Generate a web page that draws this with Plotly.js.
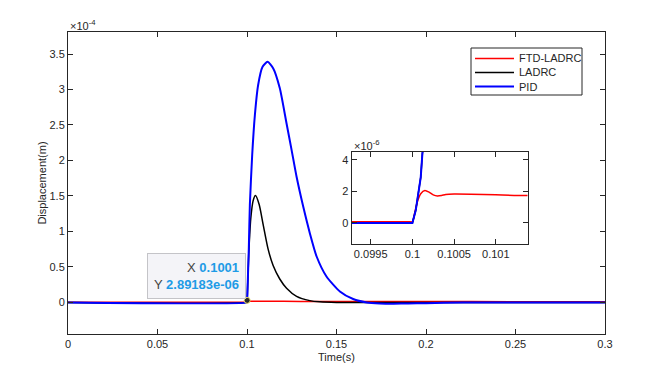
<!DOCTYPE html>
<html>
<head>
<meta charset="utf-8">
<script src="https://cdn.plot.ly/plotly-3.0.1.min.js"></script>
<style>
  html, body { margin: 0; padding: 0; background: #fff; }
  #plotArea { width: 665px; height: 371px; }
</style>
</head>
<body>
<div id="plotArea"></div>
<script>
// values, displacement in metres
var seriesNames = ["FTD-LADRC", "LADRC", "PID"];
var seriesColors = ["#ff0000", "#000000", "#0000ff"];

var tRed = [0, 0.09995, 0.1, 0.10003, 0.10006, 0.1001, 0.10015, 0.1002, 0.10025, 0.1003, 0.10035, 0.1004, 0.1005, 0.1007, 0.101, 0.1014, 0.11, 0.13, 0.16, 0.2, 0.25, 0.3];
var yRed = [0.08e-6, 0.08e-6, 0.08e-6, 0.7e-6, 1.35e-6, 1.85e-6, 2.05e-6, 1.95e-6, 1.78e-6, 1.71e-6, 1.74e-6, 1.8e-6, 1.83e-6, 1.82e-6, 1.78e-6, 1.73e-6, 1.6e-6, 1.45e-6, 1.3e-6, 1.2e-6, 1.1e-6, 1.0e-6];

var tBlack = [0, 0.1, 0.10004, 0.10008, 0.1001, 0.10012, 0.1002, 0.1005, 0.101, 0.1015, 0.1021, 0.1034, 0.1047, 0.1068, 0.109, 0.1118, 0.1146, 0.1183, 0.1221, 0.1277, 0.1351, 0.1407, 0.15, 0.3];
var yBlack = [0, 0, 0.8e-6, 2.1e-6, 2.89e-6, 4.4e-6, 1.1e-5, 3.4e-5, 0.7e-4, 0.95e-4, 1.18e-4, 1.43e-4, 1.505e-4, 1.38e-4, 1.1e-4, 0.75e-4, 0.52e-4, 0.33e-4, 0.2e-4, 0.085e-4, 0.025e-4, 0.008e-4, 0, 0];

var tBlue = [0, 0.1, 0.10004, 0.10008, 0.1001, 0.10012, 0.1002, 0.1005, 0.101, 0.1016, 0.1029, 0.1044, 0.1062, 0.1087, 0.1115, 0.1146, 0.1183, 0.1221, 0.1249, 0.1277, 0.1314, 0.1351, 0.1389, 0.1444, 0.1519, 0.1593, 0.1668, 0.1742, 0.182, 0.19, 0.2, 0.21, 0.23, 0.3];
var yBlue = [0, 0, 0.8e-6, 2.1e-6, 2.89e-6, 4.4e-6, 1.1e-5, 3.5e-5, 7.5e-5, 1.375e-4, 2.078e-4, 2.64e-4, 3.06e-4, 3.32e-4, 3.39e-4, 3.30e-4, 3.02e-4, 2.52e-4, 2.15e-4, 1.77e-4, 1.35e-4, 0.976e-4, 0.647e-4, 0.366e-4, 0.155e-4, 0.048e-4, 0, -0.015e-4, -0.018e-4, -0.015e-4, -0.01e-4, -0.005e-4, 0, 0];

var tipX = [0.1001];
var tipY = [2.89183e-6];

var xTicks = [0, 0.05, 0.1, 0.15, 0.2, 0.25, 0.3];
var yTicks = [0, 0.5e-4, 1e-4, 1.5e-4, 2e-4, 2.5e-4, 3e-4, 3.5e-4];
var yTickText = ["0", "0.5", "1", "1.5", "2", "2.5", "3", "3.5"];
var x2Ticks = [0.0995, 0.1, 0.1005, 0.101];
var y2Ticks = [0, 2e-6, 4e-6];
var y2TickText = ["0", "2", "4"];

var axisColor = "#262626";
var fontFam = "Liberation Sans, Arial, sans-serif";
var fnt = {family: fontFam, size: 11, color: axisColor};

// plot box in pixels -> paper coordinates
var L = 68, R = 605, T = 32, B = 334;
function px(x) { return (x - L) / (R - L); }
function py(y) { return (B - y) / (B - T); }

var trace = [
  {x: tRed, y: yRed, mode: "lines", line: {color: seriesColors[0], width: 1.5, shape: "spline", smoothing: 0.6}},
  {x: tBlack, y: yBlack, mode: "lines", line: {color: seriesColors[1], width: 1.5, shape: "spline", smoothing: 0.6}},
  {x: tBlue, y: yBlue, mode: "lines", line: {color: seriesColors[2], width: 2, shape: "spline", smoothing: 0.6}},
  {x: tipX, y: tipY, mode: "markers",
   marker: {color: "#262626", size: 6, line: {color: "#f0e060", width: 1}}},
  // inset copies
  {x: tRed, y: yRed, xaxis: "x2", yaxis: "y2", mode: "lines", line: {color: seriesColors[0], width: 1.5, shape: "spline", smoothing: 0.6}},
  {x: tBlack, y: yBlack, xaxis: "x2", yaxis: "y2", mode: "lines", line: {color: seriesColors[1], width: 1.5}},
  {x: tBlue, y: yBlue, xaxis: "x2", yaxis: "y2", mode: "lines", line: {color: seriesColors[2], width: 2}}
];

var axisBase = {
  showline: true, linecolor: axisColor, linewidth: 1, mirror: "ticks",
  ticks: "inside", ticklen: 5, tickcolor: axisColor, showgrid: false, zeroline: false,
  tickfont: fnt
};

// hand-drawn legend box, like the MATLAB one
var shapes = [
  {type: "rect", xref: "paper", yref: "paper", x0: px(471), x1: px(582), y0: py(48), y1: py(95),
   fillcolor: "#fff", line: {color: axisColor, width: 1}, layer: "above"}
];
var annotations = [];
var legendY = [58.5, 72.5, 86.5];
seriesNames.forEach(function (name, i) {
  shapes.push({type: "line", xref: "paper", yref: "paper", x0: px(475), x1: px(514), y0: py(legendY[i]), y1: py(legendY[i]),
               line: {color: seriesColors[i], width: i === 2 ? 2 : 1.5}, layer: "above"});
  annotations.push({xref: "paper", yref: "paper", x: px(517), y: py(legendY[i]), xanchor: "left", yanchor: "middle",
                    showarrow: false, text: name, font: fnt});
});

annotations.push(
  {xref: "paper", yref: "paper", x: 0, y: 1, xanchor: "left", yanchor: "bottom", showarrow: false,
   text: "×10<sup>-4</sup>", font: fnt, yshift: -2},
  {xref: "paper", yref: "paper", x: px(351.5), y: py(152), xanchor: "left", yanchor: "bottom", showarrow: false,
   text: "×10<sup>-6</sup>", font: fnt, yshift: -2},
  {xref: "paper", yref: "paper", x: px(246), y: py(299), xanchor: "right", yanchor: "bottom",
   showarrow: false, align: "right", bgcolor: "#f4f4f8", bordercolor: "#c4c4c8", borderwidth: 1, borderpad: 6,
   font: {family: fontFam, size: 13, color: "#444"},
   text: "X <b><span style='color:#1e9be6'>0.1001</span></b><br>Y <b><span style='color:#1e9be6'>2.89183e-06</span></b>"}
);

var layout = {
  width: 665, height: 371,
  margin: {l: L, r: 665 - R, t: T, b: 371 - B},
  paper_bgcolor: "#fff", plot_bgcolor: "#fff",
  font: fnt,
  showlegend: false,
  xaxis: Object.assign({}, axisBase, {range: [0, 0.3], tickvals: xTicks, ticktext: xTicks.map(String),
         domain: [0, 1], title: {text: "Time(s)", font: fnt, standoff: 4}}),
  yaxis: Object.assign({}, axisBase, {range: [-0.445e-4, 3.81e-4], tickvals: yTicks, ticktext: yTickText,
         domain: [0, 1], title: {text: "Displacement(m)", font: fnt, standoff: 0}}),
  xaxis2: Object.assign({}, axisBase, {range: [0.09927, 0.10138], tickvals: x2Ticks, ticktext: x2Ticks.map(String),
          domain: [px(351.5), px(527.5)], anchor: "y2"}),
  yaxis2: Object.assign({}, axisBase, {range: [-1.33e-6, 4.49e-6], tickvals: y2Ticks, ticktext: y2TickText,
          domain: [py(244), py(152)], anchor: "x2"}),
  shapes: shapes,
  annotations: annotations
};

Plotly.newPlot("plotArea", trace, layout, {displayModeBar: false, staticPlot: true});
</script>
</body>
</html>
